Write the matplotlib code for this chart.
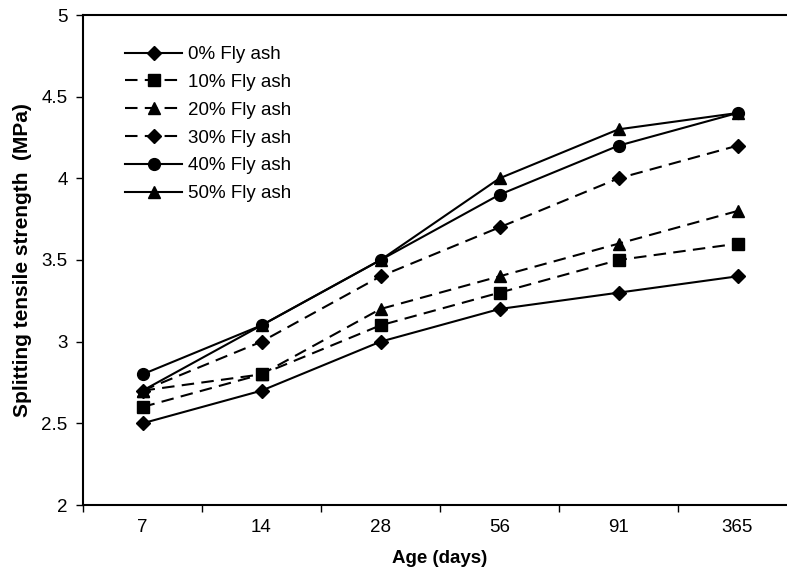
import numpy as np
from matplotlib import pyplot as plt


plt.rcParams['font.family'] = ['Liberation Sans', 'DejaVu Sans']

AGES = ['7', '14', '28', '56', '91', '365']

FA_0 = [2.5, 2.7, 3.0, 3.2, 3.3, 3.4]
FA_10 = [2.6, 2.8, 3.1, 3.3, 3.5, 3.6]
FA_20 = [2.7, 2.8, 3.2, 3.4, 3.6, 3.8]
FA_30 = [2.7, 3.0, 3.4, 3.7, 4.0, 4.2]
FA_40 = [2.8, 3.1, 3.5, 3.9, 4.2, 4.4]
FA_50 = [2.7, 3.1, 3.5, 4.0, 4.3, 4.4]

LABELS = ['0% Fly ash', '10% Fly ash', '20% Fly ash',
          '30% Fly ash', '40% Fly ash', '50% Fly ash']

DASH = (0, (6, 3.5))
STYLES = [('-', 'D', 7), (DASH, 's', 8), (DASH, '^', 8),
          (DASH, 'D', 7), ('-', 'o', 8.5), ('-', '^', 8)]

FS = 13.5

fig = plt.figure(figsize=(7.87, 5.69), dpi=100)
ax = fig.add_axes([83 / 787, 1 - 505 / 569, 714 / 787, 490 / 569])

x = np.arange(len(AGES))
series = [FA_0, FA_10, FA_20, FA_30, FA_40, FA_50]
for vals, lab, (ls, mk, ms) in zip(series, LABELS, STYLES):
    ax.plot(x, vals, color='black', linestyle=ls, linewidth=1.5,
            marker=mk, markersize=ms, markerfacecolor='black',
            markeredgecolor='black', label=lab, clip_on=False)

ax.set_xlim(-0.5, len(AGES) - 0.5)
ax.set_ylim(2, 5)
ax.set_yticks([2, 2.5, 3, 3.5, 4, 4.5, 5])
ax.set_yticklabels(['2', '2.5', '3', '3.5', '4', '4.5', '5'])

# category axis: ticks on boundaries, labels centred
ax.set_xticks(np.arange(len(AGES) + 1) - 0.5)
ax.set_xticklabels([])
ax.set_xticks(x, minor=True)
ax.set_xticklabels(AGES, minor=True)
ax.tick_params(axis='x', which='major', direction='out', length=5, width=1)
ax.tick_params(axis='x', which='minor', length=0, pad=10, labelsize=FS)
ax.tick_params(axis='y', direction='out', length=5, width=1, labelsize=FS, pad=6)

for s in ['left', 'bottom', 'top', 'right']:
    ax.spines[s].set_linewidth(1.5)

ax.set_xlabel('Age (days)', fontsize=FS, fontweight='bold', labelpad=10)
ax.set_ylabel('Splitting tensile strength  (MPa)', fontsize=15,
              fontweight='bold', labelpad=7)

ax.legend(loc='upper left', bbox_to_anchor=(125 / 787, 1 - 46 / 569),
          bbox_transform=fig.transFigure, frameon=False, fontsize=FS,
          handlelength=3.05, handletextpad=0.3, labelspacing=0.57,
          borderpad=0, borderaxespad=0)

fig.savefig('out.png', dpi=100)
